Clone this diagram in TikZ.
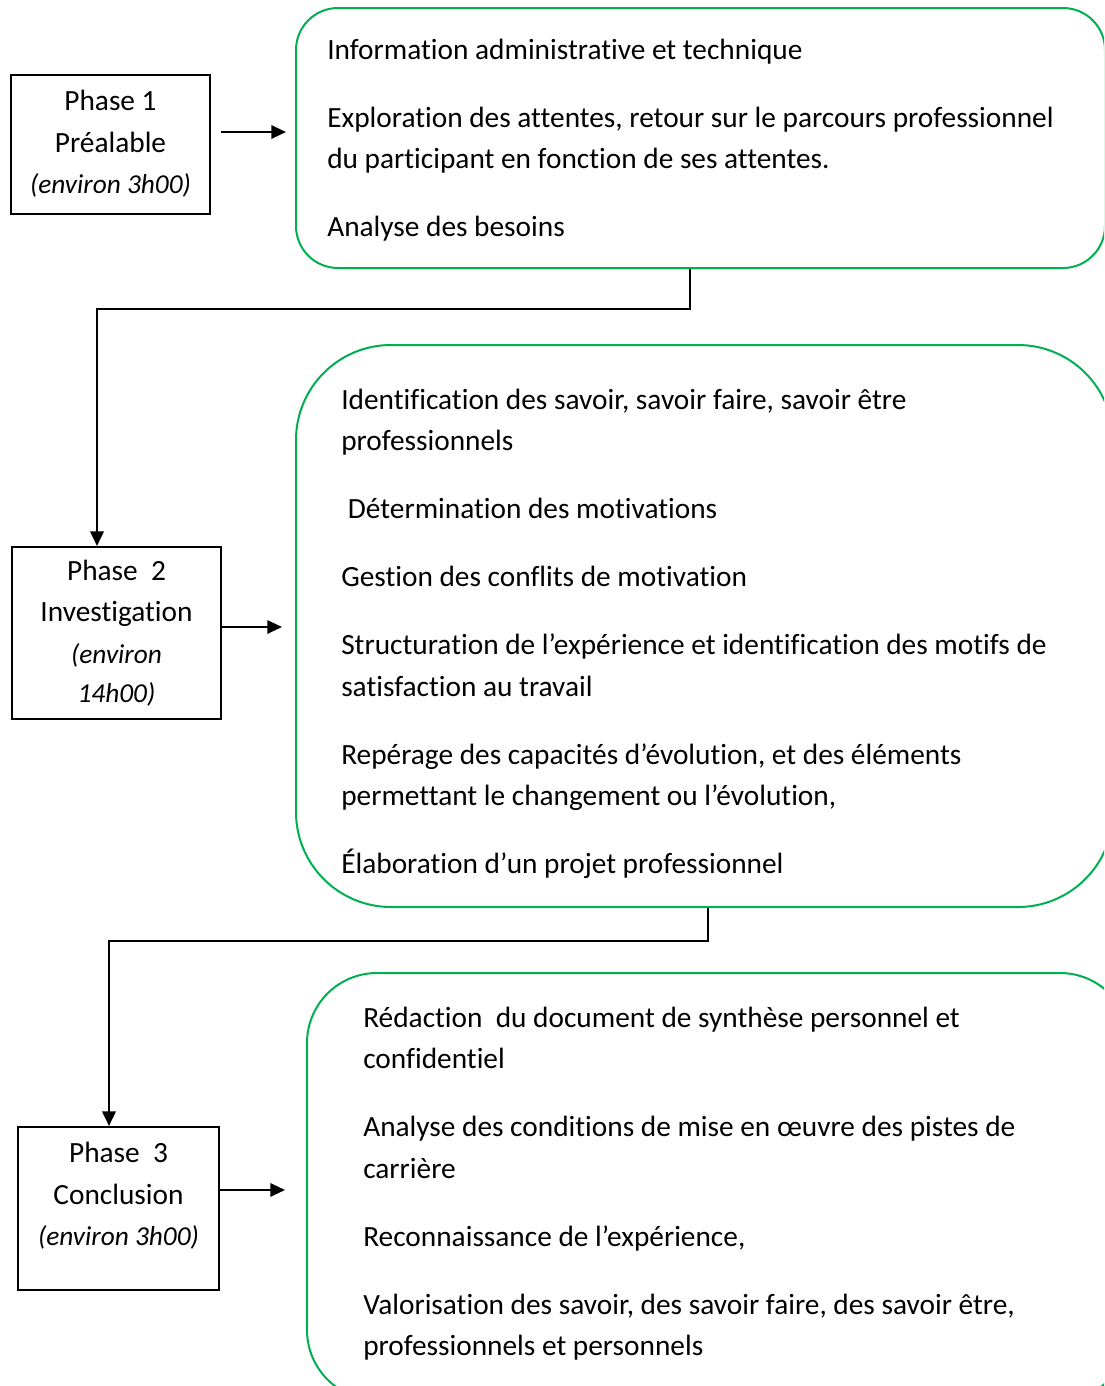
\documentclass[tikz,border=0pt]{standalone}
\usepackage{fontspec}
\setmainfont[Ligatures=NoCommon]{Carlito}
\usetikzlibrary{arrows.meta}
\definecolor{vert}{RGB}{0,176,80}
\newcommand{\duree}[1]{{\fontsize{20.5}{31.1}\selectfont\itshape #1}}
\tikzset{
    phase/.style={draw,line width=1.5pt,align=center,inner sep=0pt},
    etape/.style={draw=vert,line width=1.5pt,fill=white},
    liste/.style={anchor=north west,align=left,inner sep=0pt},
    fleche/.style={line width=1.5pt,-{Triangle[length=11pt,width=10pt]}},
    lien/.style={line width=2pt,-{Triangle[length=11pt,width=10pt]}}
}

\begin{document}
\begin{tikzpicture}[x=0.75pt,y=-0.75pt,font=\fontsize{22}{31.1}\selectfont]
    \useasboundingbox (0,0) rectangle (1104,1386);
    \clip (0,0) rectangle (1104,1386);
    \node[etape,rounded corners=31.5pt,minimum width=606.75pt,minimum height=195pt] (etape1) at (700.5,138) {};
    \node[etape,rounded corners=71.25pt,minimum width=612.75pt,minimum height=421.5pt] (etape2) at (704.5,626) {};
    \node[etape,rounded corners=52.5pt,minimum width=617.25pt,minimum height=320.25pt] (etape3) at (718.5,1186.5) {};
    \node[liste] (liste1) at (327,30) {\strut Information administrative et technique\\[19.9pt]
        Exploration des attentes, retour sur le parcours professionnel\\
        du participant en fonction de ses attentes.\\[19.9pt]
        Analyse des besoins};
    \node[liste] (liste2) at (341,380) {\strut Identification des savoir, savoir faire, savoir être\\
        professionnels\\[19.9pt]
        \ Détermination des motivations\\[19.9pt]
        Gestion des conflits de motivation\\[19.9pt]
        Structuration de l’expérience et identification des motifs de\\
        satisfaction au travail\\[19.9pt]
        Repérage des capacités d’évolution, et des éléments\\
        permettant le changement ou l’évolution,\\[19.9pt]
        Élaboration d’un projet professionnel};
    \node[liste] (liste3) at (363,998) {\strut Rédaction\ \ du document de synthèse personnel et\\
        confidentiel\\[19.9pt]
        Analyse des conditions de mise en œuvre des pistes de\\
        carrière\\[19.9pt]
        Reconnaissance de l’expérience,\\[19.9pt]
        Valorisation des savoir, des savoir faire, des savoir être,\\
        professionnels et personnels};
    \node[phase,minimum width=149.25pt,minimum height=104.25pt] (prealable) at (110.5,144)
        {Phase 1\\Préalable\\\duree{(environ 3h00)}};
    \node[phase,minimum width=156.75pt,minimum height=129pt] (investigation) at (116.5,633)
        {Phase\ \ 2\\Investigation\\\duree{(environ}\\[-2pt]\duree{14h00)}};
    \node[phase,minimum width=150.75pt,minimum height=122.25pt] (conclusion) at (118.5,1208.5)
        {Phase\ \ 3\\Conclusion\\\duree{(environ 3h00)}\\[-9.6pt]\mbox{}};
    \coordinate (coude1) at (97,309);
    \coordinate (coude2) at (109,941);
    \draw[fleche] ([shift={(7.5pt,9pt)}]prealable.east) -- ++(65,0);
    \draw[fleche] ([yshift=4.5pt]investigation.east) -- ++(60,0);
    \draw[fleche] ([yshift=13.9pt]conclusion.east) -- ++(65,0);
    \draw[lien] ([xshift=-7.9pt]etape1.south) |- (coude1) -- (investigation.north -| coude1);
    \draw[lien] ([xshift=2.6pt]etape2.south) |- (coude2) -- (conclusion.north -| coude2);
\end{tikzpicture}
\end{document}
